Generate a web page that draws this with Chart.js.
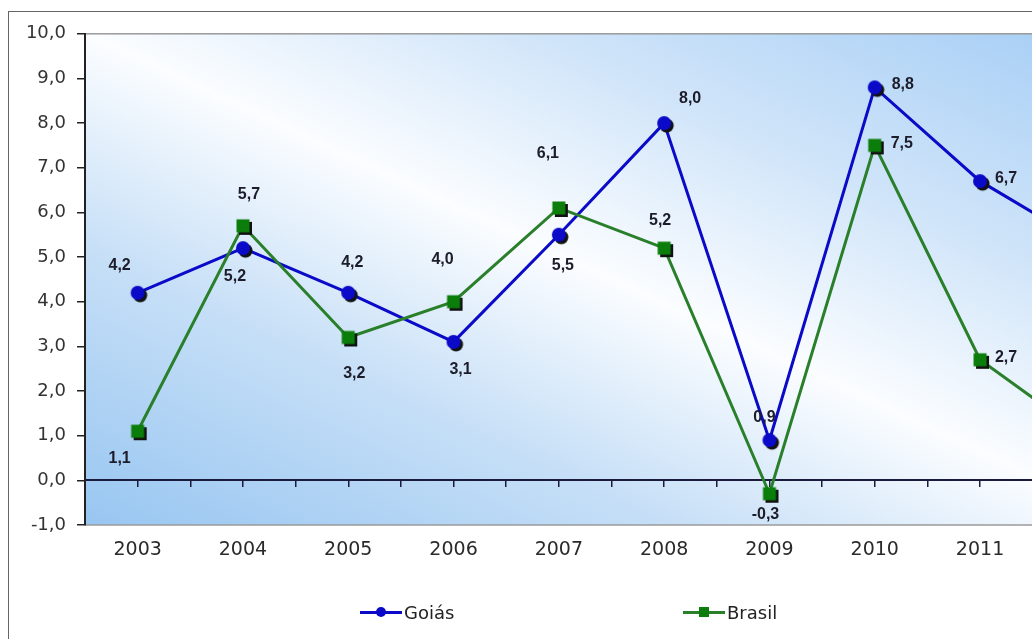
<!DOCTYPE html>
<html>
<head>
<meta charset="utf-8">
<script src="https://cdn.jsdelivr.net/npm/chart.js@4.4.1/dist/chart.umd.min.js"></script>
<style>
  html, body { margin: 0; padding: 0; background: #fff; overflow: hidden; width: 1032px; height: 639px; }
  #frame { position: absolute; left: 8px; top: 11px; width: 1300px; height: 700px; border: 1px solid #666; }
  #chart { position: absolute; left: 0; top: 0; }
  .legend-item { position: absolute; top: 600px; height: 24px; display: flex; align-items: center;
    font-family: "DejaVu Sans", sans-serif; font-size: 18px; color: #222; }
  .legend-icon { position: relative; width: 42px; height: 3px; margin-right: 2px; }
  .legend-mark { position: absolute; left: 16px; top: -4px; width: 10px; height: 10px; }
</style>
</head>
<body>
<div id="frame"><canvas id="chart" width="1180" height="640"></canvas></div>
<div id="legend"></div>
<script>
// values (last year is cut off at the right edge)
const years = ['2003', '2004', '2005', '2006', '2007', '2008', '2009', '2010', '2011', '2012'];
const goias = [4.2, 5.2, 4.2, 3.1, 5.5, 8.0, 0.9, 8.8, 6.7, 5.3];
const brasil = [1.1, 5.7, 3.2, 4.0, 6.1, 5.2, -0.3, 7.5, 2.7, 1.0];
const yTicks = [-1, 0, 1, 2, 3, 4, 5, 6, 7, 8, 9, 10];

// where each value label sits relative to its point
const goiasLabelDx = [-18, -8, 4, 7, 4, 26, -5, 28, 26, 26];
const goiasLabelDy = [-27, 28, -30, 28, 31, -25, -23, -3, -3, -3];
const brasilLabelDx = [-18, 6, 6, -11, -11, -4, -4, 27, 26, 26];
const brasilLabelDy = [27, -31, 36, -42, -54, -28, 21, -2, -2, -2];

const blue = '#0a0ac8';
const green = '#2a7f2a';
const greenMark = '#0b7d0b';

function fmt(v) {
    return v.toFixed(1).replace('.', ',');
}

function makeMarker(shape, color) {
    const c = document.createElement('canvas');
    c.width = 24;
    c.height = 24;
    const g = c.getContext('2d');
    const draw = (x, y, fill) => {
        g.fillStyle = fill;
        if (shape === 'circle') {
            g.beginPath();
            g.arc(x, y, 7, 0, Math.PI * 2);
            g.fill();
        } else {
            g.fillRect(x - 6.5, y - 6.5, 13, 13);
        }
    };
    draw(14.5, 14.5, '#111');
    draw(12, 12, color);
    return c;
}

// plot area background: blue corners bottom-left / top-right, white across the middle
const plotBackground = {
    id: 'plotBackground',
    beforeDraw(chart) {
        const { ctx, chartArea: a } = chart;
        const w = a.right - a.left, h = a.bottom - a.top;
        const cx = a.left + w / 2, cy = a.top + h / 2;
        const n = Math.sqrt(w * w + h * h);
        const ux = h / n, uy = -w / n, k = w * h / n;
        const grad = ctx.createLinearGradient(cx - ux * k, cy - uy * k, cx + ux * k, cy + uy * k);
        grad.addColorStop(0, '#98c6f1');
        grad.addColorStop(0.28, '#c6dff7');
        grad.addColorStop(0.5, '#fbfdff');
        grad.addColorStop(0.72, '#cfe4f9');
        grad.addColorStop(1, '#a2ccf5');
        ctx.save();
        ctx.fillStyle = grad;
        ctx.fillRect(a.left, a.top, w, h);
        ctx.strokeStyle = '#9a9a9a';
        ctx.lineWidth = 1.5;
        ctx.strokeRect(a.left, a.top, w, h);
        ctx.restore();
    }
};

const valueLabels = {
    id: 'valueLabels',
    afterDatasetsDraw(chart) {
        const ctx = chart.ctx;
        const offsets = [[goiasLabelDx, goiasLabelDy], [brasilLabelDx, brasilLabelDy]];
        ctx.save();
        ctx.font = 'bold 16px "Liberation Sans", Arial, sans-serif';
        ctx.fillStyle = '#1c1c2a';
        ctx.textAlign = 'center';
        ctx.textBaseline = 'middle';
        chart.data.datasets.forEach((ds, di) => {
            const meta = chart.getDatasetMeta(di);
            meta.data.forEach((pt, i) => {
                ctx.fillText(fmt(ds.data[i]), pt.x + offsets[di][0][i], pt.y + offsets[di][1][i]);
            });
        });
        ctx.restore();
    }
};

const datasets = [
    {
        label: 'Goiás',
        data: goias,
        borderColor: blue,
        borderWidth: 3,
        pointStyle: makeMarker('circle', blue),
        order: 1
    },
    {
        label: 'Brasil',
        data: brasil,
        borderColor: green,
        borderWidth: 3,
        pointStyle: makeMarker('square', greenMark),
        order: 0
    }
];

new Chart(document.getElementById('chart'), {
    type: 'line',
    data: { labels: years, datasets },
    options: {
        responsive: false,
        animation: false,
        devicePixelRatio: 1,
        layout: { padding: { top: 21, right: 51, bottom: 77, left: 0 } },
        elements: { line: { tension: 0 } },
        plugins: {
            legend: { display: false },
            tooltip: { enabled: false }
        },
        scales: {
            x: {
                type: 'category',
                offset: true,
                grid: { display: false, drawTicks: false },
                border: { display: false },
                ticks: {
                    padding: 14,
                    color: '#2a2a2a',
                    font: { family: '"DejaVu Sans", sans-serif', size: 19 }
                },
                afterFit(scale) { scale.height = 50; }
            },
            // zero line with tick marks at every category and between them
            x2: {
                type: 'linear',
                position: { y: 0 },
                min: -0.5,
                max: years.length - 0.5,
                ticks: { display: false, stepSize: 0.5 },
                grid: { drawOnChartArea: false, tickLength: 6, color: '#1a1a3c', lineWidth: 1.5 },
                border: { color: '#1a1a3c', width: 2 }
            },
            y: {
                min: -1,
                max: 10,
                afterBuildTicks(scale) { scale.ticks = yTicks.map(v => ({ value: v })); },
                grid: { drawOnChartArea: false, tickLength: 8, color: '#222', lineWidth: 1.5 },
                border: { color: '#222', width: 2 },
                ticks: {
                    padding: 11,
                    color: '#333',
                    font: { family: '"DejaVu Sans", sans-serif', size: 18 },
                    callback: v => fmt(v)
                },
                afterFit(scale) { scale.width = 76; }
            }
        }
    },
    plugins: [plotBackground, valueLabels]
});

// legend drawn as html, one entry per dataset
const legendPos = [360, 683];
const legend = document.getElementById('legend');
datasets.forEach((ds, i) => {
    const item = document.createElement('div');
    item.className = 'legend-item';
    item.style.left = legendPos[i] + 'px';
    const color = i === 0 ? blue : greenMark;
    item.innerHTML = `
      <div class="legend-icon" style="background:${ds.borderColor}">
        <div class="legend-mark" style="background:${color};border-radius:${i === 0 ? '50%' : '0'}"></div>
      </div>
      <span>${ds.label}</span>
    `;
    legend.appendChild(item);
});
</script>
</body>
</html>
